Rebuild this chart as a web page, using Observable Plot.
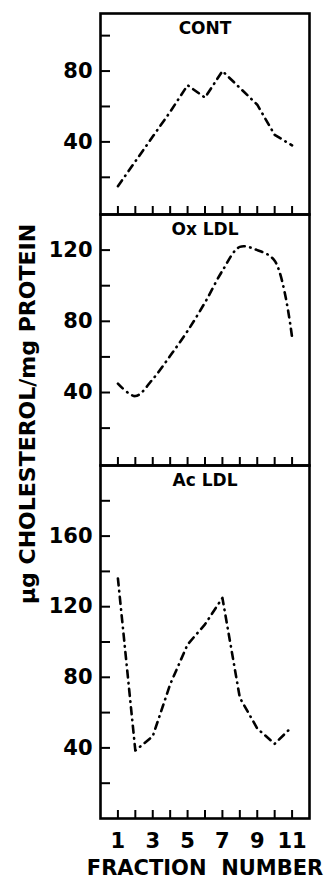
<!DOCTYPE html>
<html><head><meta charset="utf-8">
<script src="https://cdn.jsdelivr.net/npm/d3@7"></script>
<script src="https://cdn.jsdelivr.net/npm/@observablehq/plot@0.6"></script>
<style>
body{margin:0;background:#fff;}
#wrap{position:relative;width:330px;height:884px;font-family:"DejaVu Sans";}
#wrap svg{display:block;overflow:visible;}
#ylab{position:absolute;left:27px;top:414px;transform:translate(-50%,-50%) rotate(-90deg);white-space:nowrap;font:bold 22px "DejaVu Sans";color:#000;}
</style></head><body>
<div id="wrap"><div id="ylab">μg CHOLESTEROL/mg PROTEIN</div></div>
<script>
const fractions = [1,2,3,4,5,6,7,8,9,10,11];
const contValues = [15,29,43,57,72,65,80,70.5,61,44,38];
const oxValues = [45,38,47.5,60.6,74.6,90.6,108.4,121.8,120,114,71];
const acValues = [136,38.5,46.6,76,98.6,110,125,68.4,51,42.3,52];
const panelTitles = ["CONT","Ox LDL","Ac LDL"];
const xTickLabels = [1,3,5,7,9,11];
const xTitle = "FRACTION  NUMBER";
const contTicks = [20,40,60,80,100], contLabels = [40,80];
const oxTicks = [20,40,60,80,100,120], oxLabels = [40,80,120];
const acTicks = [20,40,60,80,100,120,140,160,180], acLabels = [40,80,120,160];

function panel({title, values, domain, ticks, labels, height, marginTop, marginBottom, bottomAxis, curve}) {
  const data = fractions.map((f, i) => ({f, v: values[i]}));
  const marks = [
    Plot.frame({stroke: "black", strokeWidth: 2.6}),
    Plot.axisY(ticks, {tickSize: -10, fill: null, stroke: "black", strokeWidth: 2}),
    Plot.axisY(labels, {tickSize: 0, tickPadding: 8, fontSize: 21, fontWeight: "bold", fill: "black"}),
    Plot.axisX(fractions, {anchor: "bottom", tickSize: -8, fill: null, stroke: "black", strokeWidth: 2}),
    Plot.lineY(data, {x: "f", y: "v", curve, stroke: "black", strokeWidth: 2.6,
      strokeDasharray: "7,5.5,0.5,5.5", strokeLinecap: "round", strokeLinejoin: "round"}),
    Plot.text([title], {frameAnchor: "top", dy: 15, lineAnchor: "middle", fontSize: 17, fontWeight: "bold", fill: "black"})
  ];
  if (bottomAxis) {
    marks.push(Plot.axisX(xTickLabels, {anchor: "bottom", tickSize: 0, tickPadding: 15, fontSize: 21, fontWeight: "bold", fill: "black"}));
    marks.push(Plot.text([xTitle], {frameAnchor: "bottom", dy: 50, lineAnchor: "middle", fontSize: 21, fontWeight: "bold", fill: "black", style: "white-space:pre"}));
  }
  return Plot.plot({
    width: 330, height, marginLeft: 100, marginRight: 21, marginTop, marginBottom,
    x: {domain: [0, 12], label: null},
    y: {domain, label: null},
    style: {overflow: "visible", fontFamily: "DejaVu Sans", color: "black", background: "transparent"},
    marks
  });
}

const wrap = document.getElementById("wrap");
wrap.appendChild(panel({title: panelTitles[0], values: contValues, domain: [-1, 112.5], ticks: contTicks, labels: contLabels, height: 214, marginTop: 13, marginBottom: 0, curve: "linear"}));
wrap.appendChild(panel({title: panelTitles[1], values: oxValues, domain: [-1, 140], ticks: oxTicks, labels: oxLabels, height: 251, marginTop: 0, marginBottom: 0, curve: "catmull-rom"}));
wrap.appendChild(panel({title: panelTitles[2], values: acValues, domain: [0, 200], ticks: acTicks, labels: acLabels, height: 419, marginTop: 0, marginBottom: 66, bottomAxis: true, curve: "linear"}));
</script>
</body></html>
